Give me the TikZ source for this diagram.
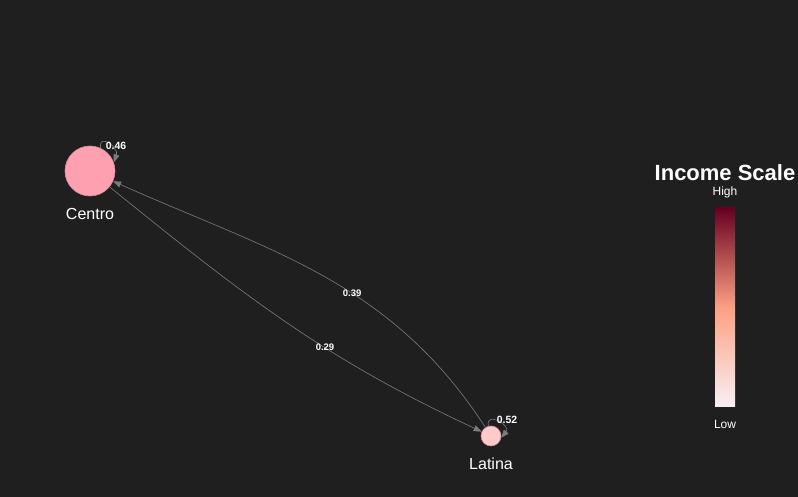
\documentclass[tikz,border=0pt]{standalone}
\usepackage{fontspec}
\setmainfont{Liberation Sans}
\usepackage{xcolor}
\usepackage{tikz}
\usetikzlibrary{arrows.meta}

\definecolor{bg}{HTML}{1F1F1F}
\definecolor{centrofill}{HTML}{FFA0B0}
\definecolor{latinafill}{HTML}{FFCACA}
\definecolor{citydraw}{HTML}{D98A98}
\definecolor{linkgray}{HTML}{7C7C7C}
\definecolor{scalelow}{HTML}{F8F0F4}
\definecolor{scalemid}{HTML}{FCA082}
\definecolor{scalehigh}{HTML}{67001F}
\pgfdeclareverticalshading{incomescale}{100bp}{color(0bp)=(scalelow); color(25bp)=(scalelow); color(50bp)=(scalemid); color(75bp)=(scalehigh); color(100bp)=(scalehigh)}

\begin{document}
\begin{tikzpicture}[x=1pt,y=1pt,
    city/.style={circle, draw=citydraw, line width=0.6pt, inner sep=0pt},
    link/.style={draw=linkgray, line width=0.6pt, -{Triangle[length=8pt,width=6pt]}},
    weight/.style={text=white, font=\bfseries\fontsize{9.5}{9.5}\selectfont, inner sep=1pt},
    selfweight/.style={text=white, font=\bfseries\fontsize{10.5}{10.5}\selectfont, inner sep=1pt},
    cityname/.style={text=white, font=\fontsize{16}{16}\selectfont}]
    \fill [bg] (0,0) rectangle (798,497);
    \useasboundingbox (0,0) rectangle (798,497);
    \node [city, fill=centrofill, minimum size=50pt] (centro) at (90,326) {};
    \node [city, fill=latinafill, minimum size=20pt] (latina) at (491,61) {};
    \node [cityname] (centroname) at (90,283) {Centro};
    \node [cityname] (latinaname) at (491,33) {Latina};
    % flows between the two
    \draw [link] (latina) to[out=123, in=-24] node[weight, pos=0.42] (w39) {0.39} (centro);
    \draw [link] (centro) to[out=-39, in=155] node[weight, pos=0.61] (w29) {0.29} (latina);
    % self loops
    \draw [link] (centro.65) to[out=100, in=70, distance=16pt] (centro.20);
    \node [selfweight] (w46) at (116,351) {0.46};
    \draw [link] (latina.105) to[out=100, in=50, distance=16pt] (latina.-10);
    \node [selfweight] (w52) at (507,77) {0.52};
    % colour scale
    \node [text=white, font=\bfseries\fontsize{22}{22}\selectfont] (scaletitle) at (725,324) {Income Scale};
    \node [text=white, font=\fontsize{12}{12}\selectfont] (scalehighlabel) at (725,305) {High};
    \shade [shading=incomescale] (715,90) rectangle (735,289);
    \node [text=white, font=\fontsize{12}{12}\selectfont] (scalelowlabel) at (725,73) {Low};
\end{tikzpicture}
\end{document}
